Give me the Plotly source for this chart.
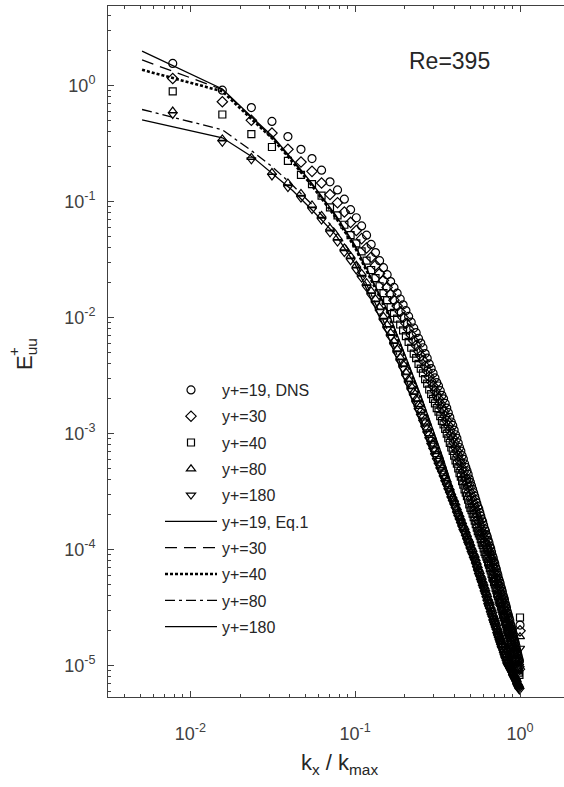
import numpy as np
import plotly.graph_objects as go

# DNS wavenumber index n (k_x = n*dk, k_max = 128*dk)
dns_index = np.arange(1, 129)
dns_index_max = 128

# log10(E_uu^+), one value per DNS wavenumber
log_E_dns_19 = [
    0.19, -0.04, -0.19, -0.31, -0.44, -0.55, -0.63, -0.73, -0.83, -0.90,
    -0.98, -1.07, -1.14, -1.21, -1.29, -1.37, -1.44, -1.51, -1.57, -1.63,
    -1.69, -1.74, -1.79, -1.84, -1.89, -1.94, -1.99, -2.04, -2.09, -2.13,
    -2.18, -2.22, -2.26, -2.31, -2.35, -2.40, -2.44, -2.48, -2.52, -2.56,
    -2.59, -2.63, -2.67, -2.70, -2.74, -2.78, -2.82, -2.86, -2.90, -2.93,
    -2.97, -3.01, -3.04, -3.08, -3.12, -3.15, -3.19, -3.22, -3.26, -3.29,
    -3.32, -3.35, -3.39, -3.42, -3.45, -3.48, -3.51, -3.54, -3.57, -3.60,
    -3.63, -3.65, -3.68, -3.71, -3.74, -3.76, -3.79, -3.82, -3.84, -3.87,
    -3.89, -3.92, -3.94, -3.97, -3.99, -4.02, -4.05, -4.07, -4.10, -4.12,
    -4.15, -4.17, -4.20, -4.22, -4.25, -4.27, -4.29, -4.32, -4.34, -4.36,
    -4.39, -4.41, -4.43, -4.46, -4.48, -4.50, -4.53, -4.55, -4.57, -4.59,
    -4.61, -4.64, -4.66, -4.68, -4.70, -4.72, -4.75, -4.77, -4.79, -4.81,
    -4.83, -4.86, -4.88, -4.90, -4.92, -4.94, -4.96, -4.65]

log_E_dns_30 = [
    0.06, -0.14, -0.30, -0.41, -0.55, -0.66, -0.74, -0.84, -0.94, -1.01,
    -1.09, -1.18, -1.25, -1.32, -1.40, -1.48, -1.55, -1.62, -1.68, -1.74,
    -1.80, -1.85, -1.90, -1.95, -2.00, -2.05, -2.10, -2.15, -2.20, -2.24,
    -2.29, -2.33, -2.37, -2.42, -2.46, -2.51, -2.55, -2.59, -2.63, -2.67,
    -2.70, -2.74, -2.78, -2.81, -2.85, -2.89, -2.93, -2.97, -3.01, -3.04,
    -3.08, -3.12, -3.15, -3.19, -3.23, -3.26, -3.30, -3.33, -3.37, -3.40,
    -3.43, -3.46, -3.50, -3.53, -3.56, -3.59, -3.62, -3.65, -3.68, -3.71,
    -3.74, -3.76, -3.79, -3.82, -3.85, -3.87, -3.90, -3.93, -3.95, -3.97,
    -3.99, -4.01, -4.03, -4.06, -4.08, -4.11, -4.14, -4.16, -4.19, -4.21,
    -4.24, -4.26, -4.29, -4.31, -4.34, -4.36, -4.38, -4.41, -4.43, -4.45,
    -4.48, -4.50, -4.52, -4.55, -4.57, -4.59, -4.62, -4.64, -4.66, -4.67,
    -4.69, -4.71, -4.73, -4.75, -4.77, -4.79, -4.82, -4.84, -4.86, -4.88,
    -4.90, -4.93, -4.95, -4.97, -4.99, -5.01, -5.03, -4.70]

log_E_dns_40 = [
    -0.05, -0.25, -0.42, -0.53, -0.65, -0.77, -0.85, -0.95, -1.05, -1.12,
    -1.20, -1.29, -1.36, -1.43, -1.51, -1.59, -1.66, -1.73, -1.79, -1.85,
    -1.91, -1.96, -2.01, -2.06, -2.11, -2.16, -2.21, -2.26, -2.31, -2.35,
    -2.40, -2.44, -2.48, -2.53, -2.57, -2.62, -2.66, -2.70, -2.74, -2.78,
    -2.81, -2.85, -2.89, -2.92, -2.96, -3.00, -3.04, -3.08, -3.12, -3.15,
    -3.19, -3.23, -3.26, -3.30, -3.34, -3.37, -3.41, -3.44, -3.48, -3.51,
    -3.54, -3.57, -3.61, -3.64, -3.66, -3.69, -3.72, -3.75, -3.78, -3.81,
    -3.84, -3.86, -3.88, -3.91, -3.94, -3.96, -3.99, -4.02, -4.04, -4.06,
    -4.08, -4.11, -4.13, -4.16, -4.18, -4.21, -4.24, -4.25, -4.28, -4.30,
    -4.33, -4.35, -4.38, -4.40, -4.43, -4.45, -4.46, -4.49, -4.51, -4.53,
    -4.56, -4.58, -4.59, -4.62, -4.64, -4.66, -4.69, -4.71, -4.72, -4.74,
    -4.76, -4.79, -4.81, -4.82, -4.84, -4.86, -4.89, -4.91, -4.93, -4.94,
    -4.96, -4.99, -5.01, -5.03, -5.04, -5.06, -5.08, -4.585]

log_E_dns_80 = [
    -0.22, -0.46, -0.62, -0.75, -0.84, -0.93, -1.03, -1.12, -1.23, -1.31,
    -1.40, -1.47, -1.55, -1.62, -1.70, -1.77, -1.84, -1.91, -1.99, -2.06,
    -2.13, -2.20, -2.27, -2.34, -2.40, -2.47, -2.53, -2.59, -2.64, -2.70,
    -2.75, -2.80, -2.85, -2.90, -2.95, -3.00, -3.05, -3.09, -3.14, -3.18,
    -3.22, -3.26, -3.29, -3.33, -3.37, -3.40, -3.44, -3.47, -3.51, -3.54,
    -3.57, -3.60, -3.64, -3.67, -3.70, -3.73, -3.76, -3.79, -3.81, -3.84,
    -3.87, -3.90, -3.92, -3.95, -3.98, -4.00, -4.03, -4.05, -4.08, -4.11,
    -4.14, -4.17, -4.19, -4.22, -4.24, -4.27, -4.29, -4.32, -4.34, -4.37,
    -4.39, -4.42, -4.44, -4.46, -4.49, -4.51, -4.53, -4.56, -4.58, -4.60,
    -4.62, -4.64, -4.67, -4.69, -4.71, -4.73, -4.75, -4.77, -4.79, -4.80,
    -4.82, -4.84, -4.86, -4.88, -4.89, -4.91, -4.93, -4.94, -4.96, -4.98,
    -4.99, -5.01, -5.02, -5.03, -5.04, -5.06, -5.07, -5.08, -5.09, -5.10,
    -5.11, -5.12, -5.14, -5.15, -5.16, -5.17, -5.18, -4.75]

log_E_dns_180 = [
    -0.25, -0.49, -0.64, -0.78, -0.88, -0.97, -1.07, -1.16, -1.27, -1.35,
    -1.44, -1.51, -1.59, -1.66, -1.74, -1.81, -1.88, -1.95, -2.03, -2.10,
    -2.17, -2.24, -2.31, -2.38, -2.44, -2.51, -2.57, -2.63, -2.68, -2.74,
    -2.80, -2.85, -2.90, -2.95, -3.00, -3.05, -3.10, -3.14, -3.19, -3.23,
    -3.27, -3.31, -3.34, -3.38, -3.42, -3.45, -3.49, -3.52, -3.56, -3.59,
    -3.62, -3.65, -3.69, -3.72, -3.75, -3.78, -3.81, -3.84, -3.86, -3.89,
    -3.92, -3.95, -3.97, -4.00, -4.03, -4.05, -4.08, -4.10, -4.13, -4.16,
    -4.19, -4.22, -4.24, -4.27, -4.29, -4.32, -4.34, -4.37, -4.39, -4.42,
    -4.45, -4.48, -4.50, -4.52, -4.55, -4.57, -4.59, -4.62, -4.64, -4.66,
    -4.68, -4.70, -4.73, -4.75, -4.77, -4.79, -4.81, -4.83, -4.85, -4.86,
    -4.88, -4.90, -4.92, -4.94, -4.95, -4.97, -4.99, -5.00, -5.01, -5.02,
    -5.03, -5.04, -5.05, -5.06, -5.07, -5.09, -5.10, -5.11, -5.12, -5.13,
    -5.14, -5.15, -5.17, -5.18, -5.19, -5.20, -5.21, -4.85]

# Eq.1 model curves
eq1_kx = [0.00509, 0.01563, 0.0239, 0.0316, 0.0417, 0.0551, 0.0764,
          0.1, 0.1585, 0.2512, 0.3388, 0.5012, 0.7079, 1.0]
log_E_eq1_19 = [0.296, -0.03, -0.28, -0.44, -0.64, -0.85, -1.12, -1.38,
                -1.95, -2.68, -3.20, -3.95, -4.62, -5.15]
log_E_eq1_30 = [0.22, -0.035, -0.29, -0.45, -0.65, -0.86, -1.13, -1.39,
                -1.96, -2.69, -3.21, -3.96, -4.63, -5.16]
log_E_eq1_40 = [0.135, -0.05, -0.30, -0.46, -0.66, -0.87, -1.14, -1.40,
                -1.97, -2.70, -3.22, -3.97, -4.64, -5.17]
log_E_eq1_80 = [-0.207, -0.382, -0.57, -0.704, -0.86, -1.03, -1.25, -1.50,
                -2.12, -2.88, -3.38, -4.02, -4.66, -5.18]
log_E_eq1_180 = [-0.296, -0.451, -0.618, -0.761, -0.905, -1.078, -1.29, -1.54,
                 -2.16, -2.92, -3.42, -4.06, -4.70, -5.21]

dns_names = ["y+=19, DNS", "y+=30", "y+=40", "y+=80", "y+=180"]
eq1_names = ["y+=19, Eq.1", "y+=30", "y+=40", "y+=80", "y+=180"]

x_tick_vals = [0.01, 0.1, 1]
x_tick_text = ["10<sup>-2</sup>", "10<sup>-1</sup>", "10<sup>0</sup>"]
y_tick_vals = [1e-5, 1e-4, 1e-3, 1e-2, 1e-1, 1]
y_tick_text = ["10<sup>-5</sup>", "10<sup>-4</sup>", "10<sup>-3</sup>",
               "10<sup>-2</sup>", "10<sup>-1</sup>", "10<sup>0</sup>"]

kx_dns = dns_index / dns_index_max
dns_series = [log_E_dns_19, log_E_dns_30, log_E_dns_40, log_E_dns_80, log_E_dns_180]
eq1_series = [log_E_eq1_19, log_E_eq1_30, log_E_eq1_40, log_E_eq1_80, log_E_eq1_180]

symbols = ["circle-open", "diamond-open", "square-open", "triangle-up-open", "triangle-down-open"]
sizes = [8, 8, 7, 8, 8]
dashes = ["solid", "12px,7px", "3px,2px", "10px,4px,3px,4px", "solid"]
widths = [1.3, 1.3, 2.6, 1.3, 1.3]

fig = go.Figure()
for i, (vals, name) in enumerate(zip(dns_series, dns_names)):
    fig.add_trace(go.Scatter(
        x=kx_dns, y=10 ** np.array(vals), mode="markers", name=name,
        legendgroup=f"g{i}",
        marker=dict(symbol=symbols[i], size=sizes[i], color="black",
                    line=dict(width=1.2, color="black"))))
for i, (vals, name) in enumerate(zip(eq1_series, eq1_names)):
    fig.add_trace(go.Scatter(
        x=eq1_kx, y=10 ** np.array(vals), mode="lines", name=name,
        legendgroup=f"g{i + 5}",
        line=dict(color="black", width=widths[i], dash=dashes[i])))

axcol = "#404040"
font_family = "Liberation Sans, Arial, sans-serif"

minor_x = [a * 10.0 ** b for b in (-3, -2, -1) for a in range(2, 10)]
minor_y = [a * 10.0 ** b for b in (-6, -5, -4, -3, -2, -1, 0) for a in range(2, 10)]

fig.update_xaxes(
    type="log", range=[-2.5, 0.267], tickmode="array",
    tickvals=x_tick_vals, ticktext=x_tick_text,
    ticks="inside", ticklen=6, tickwidth=1, tickcolor=axcol,
    showline=True, linecolor=axcol, linewidth=1, mirror="ticks",
    showgrid=False, zeroline=False, ticklabelstandoff=20,
    tickfont=dict(size=18, color=axcol, family=font_family),
    minor=dict(tickmode="array", tickvals=minor_x, ticks="inside",
               ticklen=3, tickcolor=axcol, showgrid=False))
fig.update_yaxes(
    type="log", range=[-5.27, 0.685], tickmode="array",
    tickvals=y_tick_vals, ticktext=y_tick_text,
    ticks="inside", ticklen=6, tickwidth=1, tickcolor=axcol,
    showline=True, linecolor=axcol, linewidth=1, mirror=False,
    showgrid=False, zeroline=False, ticklabelstandoff=8,
    tickfont=dict(size=18, color=axcol, family=font_family),
    minor=dict(tickmode="array", tickvals=minor_y, ticks="inside",
               ticklen=3, tickcolor=axcol, showgrid=False))

W, H = 564, 787
L, R, T, B = 108, 0, 6, 90
pw, ph = W - L - R, H - T - B


def px(xp):
    return (xp - L) / pw


def py(yp):
    return (H - B - yp) / ph


fig.update_layout(
    width=W, height=H, autosize=False,
    margin=dict(l=L, r=R, t=T, b=B, pad=0),
    paper_bgcolor="white", plot_bgcolor="white",
    font=dict(family=font_family, color="#262626"),
    showlegend=True,
    legend=dict(x=px(160), y=py(373), xanchor="left", yanchor="top",
                bgcolor="rgba(0,0,0,0)", borderwidth=0,
                font=dict(size=16, color="#262626", family=font_family),
                itemwidth=52, tracegroupgap=2.5, traceorder="grouped"),
    annotations=[
        dict(text="Re=395", x=px(449), y=py(61), xref="paper", yref="paper",
             xanchor="center", yanchor="middle",
             showarrow=False, font=dict(size=23, color="#262626")),
        dict(text="k<sub>x</sub> / k<sub>max</sub>", x=px(339), y=py(764),
             xref="paper", yref="paper", xanchor="center", yanchor="middle",
             showarrow=False, font=dict(size=22, color="#262626")),
        dict(text="E<sub>uu</sub>", x=px(26), y=py(354), xref="paper", yref="paper",
             xanchor="center", yanchor="middle",
             showarrow=False, textangle=-90, font=dict(size=22, color="#262626")),
        dict(text="+", x=px(13), y=py(352), xref="paper", yref="paper",
             xanchor="center", yanchor="middle",
             showarrow=False, textangle=-90, font=dict(size=15, color="#262626")),
    ],
)

fig.write_html("out.html")
